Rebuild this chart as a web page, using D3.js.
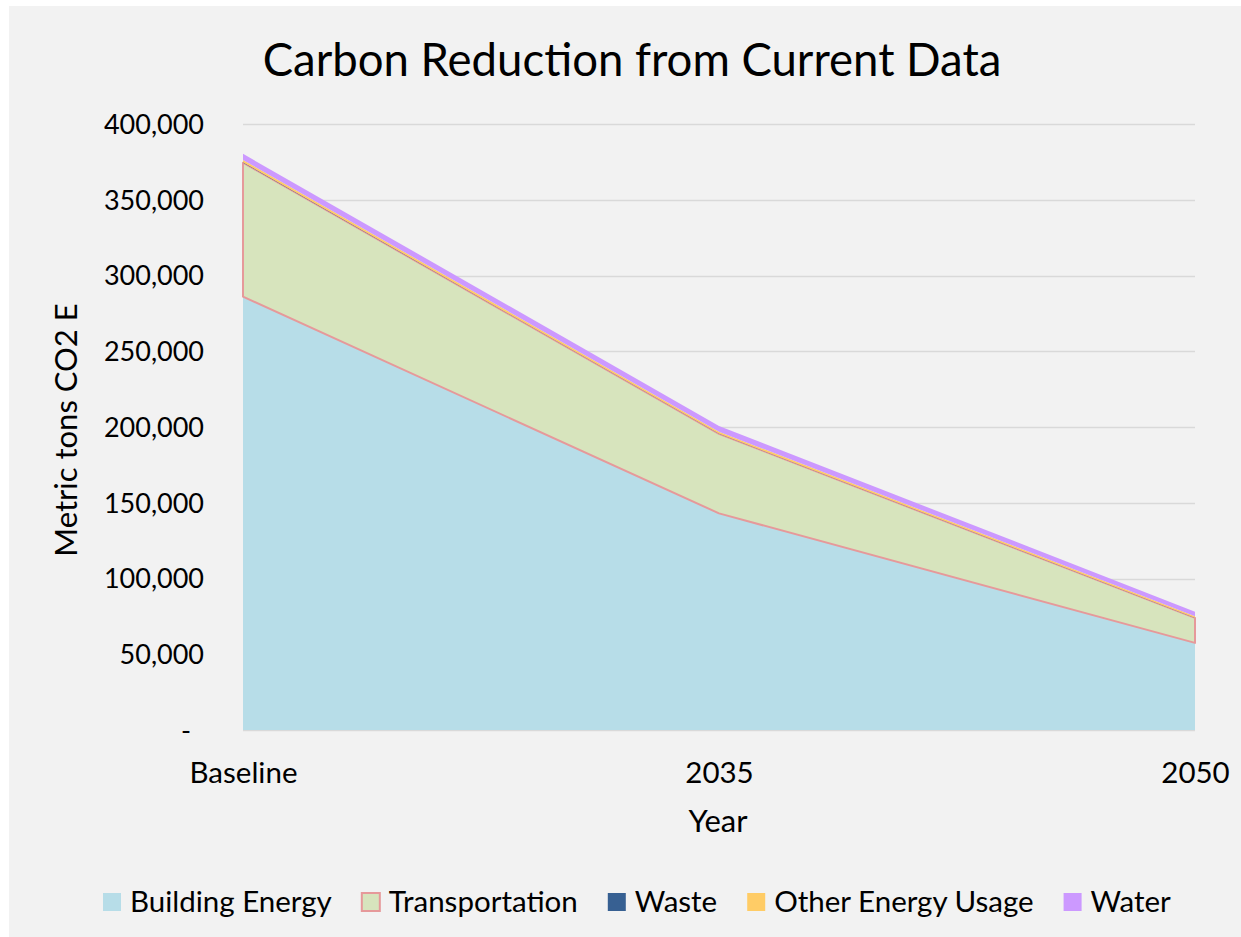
<!DOCTYPE html>
<html>
<head>
<meta charset="utf-8">
<script src="https://cdn.jsdelivr.net/npm/d3@7"></script>
<style>
  body { margin: 0; background: #ffffff; }
  text { font-family: Lato, "Open Sans", sans-serif; fill: #000; }
</style>
</head>
<body>
<div id="chart"></div>
<script>
var categories = ["Baseline", "2035", "2050"];
var buildingEnergy = [286000, 143000, 57500];
var transportation = [88500, 52500, 16500];
var waste = [300, 200, 100];
var otherEnergy = [1500, 1200, 1000];
var water = [4000, 3800, 3000];
var seriesNames = ["Building Energy", "Transportation", "Waste", "Other Energy Usage", "Water"];
var yTicks = [0, 50000, 100000, 150000, 200000, 250000, 300000, 350000, 400000];

var width = 1241, height = 937;
var plot = {left: 243, right: 1195, top: 124, bottom: 730};
var fills = ["#b7dde8", "#d7e4bd", "#376092", "#ffcc66", "#cc99ff"];
var strokes = [null, "#e6999a", null, null, null];

var rows = categories.map(function (c, i) {
    return {
        cat: c,
        "Building Energy": buildingEnergy[i],
        "Transportation": transportation[i],
        "Waste": waste[i],
        "Other Energy Usage": otherEnergy[i],
        "Water": water[i]
    };
});

var x = d3.scalePoint().domain(categories).range([plot.left, plot.right]).padding(0);
var y = d3.scaleLinear().domain([0, 400000]).range([plot.bottom, plot.top]);
var formatNumber = d3.format(",");

var svg = d3.select("#chart").append("svg")
    .attr("width", width)
    .attr("height", height);

svg.append("rect")
    .attr("x", 9).attr("y", 6)
    .attr("width", width - 9).attr("height", height - 6)
    .attr("fill", "#f2f2f2");

// gridlines
svg.append("g")
    .selectAll("line")
    .data(yTicks)
    .enter().append("line")
    .attr("x1", plot.left).attr("x2", plot.right)
    .attr("y1", function (d) { return Math.round(y(d)) + 0.5; })
    .attr("y2", function (d) { return Math.round(y(d)) + 0.5; })
    .attr("stroke", "#d9d9d9")
    .attr("stroke-width", 1.5);

var stack = d3.stack().keys(seriesNames);
var layers = stack(rows);

var area = d3.area()
    .x(function (d) { return x(d.data.cat); })
    .y0(function (d) { return y(d[0]); })
    .y1(function (d) { return y(d[1]); });

svg.append("g")
    .selectAll("path")
    .data(layers)
    .enter().append("path")
    .attr("d", area)
    .attr("fill", function (d, i) { return fills[i]; })
    .attr("stroke", function (d, i) { return strokes[i] || "none"; })
    .attr("stroke-width", 2)
    .attr("stroke-linejoin", "round");

// y axis labels
var yAxis = d3.axisLeft(y)
    .tickValues(yTicks)
    .tickSize(0)
    .tickPadding(0)
    .tickFormat(function (d) { return d === 0 ? "-" : formatNumber(d); });

var yg = svg.append("g")
    .attr("transform", "translate(204,0)")
    .call(yAxis);
yg.select(".domain").remove();
yg.selectAll("text")
    .attr("font-size", "27px")
    .attr("font-family", "Lato, sans-serif")
    .attr("dy", "0.35em")
    .attr("dx", function (d) { return d === 0 ? -13 : 0; });

// x axis labels
var xAxis = d3.axisBottom(x).tickSize(0).tickPadding(0);
var xg = svg.append("g")
    .attr("transform", "translate(0,773)")
    .call(xAxis);
xg.select(".domain").remove();
xg.selectAll("text")
    .attr("font-size", "29.5px")
    .attr("font-family", "Lato, sans-serif")
    .attr("y", 0)
    .attr("dy", "0.35em");

// titles
svg.append("text")
    .attr("x", 632).attr("y", 60)
    .attr("text-anchor", "middle")
    .attr("dy", "0.35em")
    .attr("font-size", "45.5px")
    .text("Carbon Reduction from Current Data");

svg.append("text")
    .attr("transform", "translate(66,430) rotate(-90)")
    .attr("text-anchor", "middle")
    .attr("dy", "0.35em")
    .attr("font-size", "31px")
    .text("Metric tons CO2 E");

svg.append("text")
    .attr("x", 718).attr("y", 821)
    .attr("text-anchor", "middle")
    .attr("dy", "0.35em")
    .attr("font-size", "31px")
    .text("Year");

// legend
var legend = svg.append("g").attr("transform", "translate(0,902)");
var lx = 103;
seriesNames.forEach(function (name, i) {
    var item = legend.append("g").attr("transform", "translate(" + lx + ",0)");
    item.append("rect")
        .attr("x", 0).attr("y", -9)
        .attr("width", 18).attr("height", 18)
        .attr("fill", fills[i])
        .attr("stroke", strokes[i] || "none")
        .attr("stroke-width", 2);
    var t = item.append("text")
        .attr("x", 27).attr("y", 0)
        .attr("dy", "0.35em")
        .attr("font-size", "29.5px")
        .text(name);
    lx += 27 + t.node().getComputedTextLength() + 30;
});
</script>
</body>
</html>
